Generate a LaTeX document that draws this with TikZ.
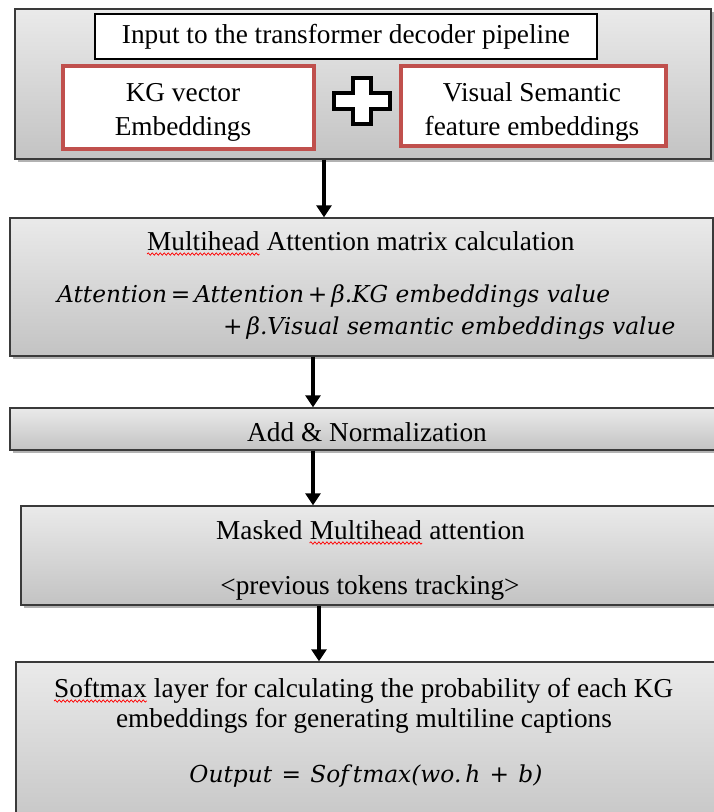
\documentclass[tikz,border=0pt]{standalone}
\usepackage{fontspec}
\setmainfont{Liberation Serif}
\newfontfamily\eqfont{DejaVu Serif}
\usetikzlibrary{arrows.meta,shadows,decorations.pathmorphing}
\definecolor{gtop}{HTML}{EAEAEA}
\definecolor{gbot}{HTML}{C3C3C3}
\definecolor{bord}{HTML}{3A3A3A}
\definecolor{kgred}{HTML}{C0504D}
\newcommand\eqsp{\hspace{0.4em}}
\begin{document}
\begin{tikzpicture}[x=1pt,y=-1pt,
  stage/.style={draw=bord, line width=1.4pt, top color=gtop, bottom color=gbot, inner sep=0pt,
    drop shadow={shadow xshift=2.5pt, shadow yshift=-2.5pt, opacity=0.3, fill=black}},
  txt/.style={inner sep=0pt, font=\fontsize{27.3}{34}\selectfont, align=center},
  wtxt/.style={inner sep=0pt, font=\fontsize{27.3}{34}\selectfont, anchor=base west},
  eq/.style={inner sep=0pt, font=\eqfont\itshape\fontsize{23.3}{28}\selectfont},
  redbox/.style={draw=kgred, line width=3.5pt, fill=white, inner sep=0pt},
  wave/.style={draw=red, line width=0.7pt, decorate,
    decoration={snake, amplitude=1.2pt, segment length=4pt}},
  arr/.style={line width=3.2pt, -{Triangle[width=15pt,length=12pt]}}]

\useasboundingbox (0,0) rectangle (714,812);
\fill[white] (0,0) rectangle (714,812);
\clip (0,0) rectangle (714,812);

% stage 1
\node[stage, minimum width=696pt, minimum height=150pt] (b1) at (363,84) {};
\node[draw=black, line width=1.3pt, fill=white, minimum width=502pt, minimum height=45pt,
  inner sep=0pt, font=\fontsize{27.3}{34}\selectfont] (inp) at (346,36.5)
  {Input to the transformer decoder pipeline};
\node[redbox, minimum width=251pt, minimum height=83pt] (kg) at (188.5,107.5) {};
\node[txt] (kgt) at (183,112) {KG vector\\Embeddings};
\node[redbox, minimum width=265pt, minimum height=80pt] (vis) at (533.5,106) {};
\node[txt] (vist) at (532,112) {Visual Semantic\\feature embeddings};
\draw[line width=4pt, fill=white, line join=miter]
  (353,78) -- (371,78) -- (371,93) -- (390,93) -- (390,109) -- (371,109) -- (371,124)
  -- (353,124) -- (353,109) -- (334,109) -- (334,93) -- (353,93) -- cycle;

% stage 2
\node[stage, minimum width=703pt, minimum height=138pt] (b2) at (361.5,287) {};
\node[wtxt] (t2w) at (147,250) {Multihead};
\node[wtxt] (t2r) at (t2w.base east) {\ Attention matrix calculation};
\draw[wave] ([yshift=-4pt]t2w.base west) -- ([yshift=-4pt]t2w.base east);
\node[eq, anchor=west] (e2a) at (57,296) {Attention\,=\,Attention\,+\,β.KG embeddings value};
\node[eq, anchor=west] (e2b) at (223,328) {+\,β.Visual semantic embeddings value};

% stage 3
\node[stage, minimum width=710pt, minimum height=42pt] (b3) at (365,429) {};
\node[txt] (t3) at (367,432) {Add \& Normalization};

% stage 4
\node[stage, minimum width=699pt, minimum height=99pt] (b4) at (370.5,555.5) {};
\node[wtxt] (t4a) at (216,539) {Masked};
\node[wtxt] (t4w) at ([xshift=6.8pt]t4a.base east) {Multihead};
\node[wtxt] (t4c) at (t4w.base east) {\ attention};
\draw[wave] ([yshift=-4pt]t4w.base west) -- ([yshift=-4pt]t4w.base east);
\node[txt] (t4b) at (370,588) {<previous tokens tracking>};

% stage 5
\node[stage, minimum width=704pt, minimum height=178pt] (b5) at (368,751) {};
\node[wtxt] (t5w) at (54,697) {Softmax};
\node[wtxt] (t5r) at (t5w.base east) {\ layer for calculating the probability of each KG};
\draw[wave] ([yshift=-4pt]t5w.base west) -- ([yshift=-4pt]t5w.base east);
\node[txt] (t5b) at (364,721) {embeddings for generating multiline captions};
\node[eq] (e5) at (366,776) {Output\eqsp=\eqsp Sof\,tmax(wo.\,h\eqsp+\eqsp b)};

% connectors
\coordinate (a1) at (324,0);
\coordinate (a2) at (313,0);
\coordinate (a3) at (313,0);
\coordinate (a4) at (319,0);
\draw[arr] (b1.south -| a1) -- (b2.north -| a1);
\draw[arr] (b2.south -| a2) -- (b3.north -| a2);
\draw[arr] (b3.south -| a3) -- (b4.north -| a3);
\draw[arr] (b4.south -| a4) -- (b5.north -| a4);
\end{tikzpicture}
\end{document}
